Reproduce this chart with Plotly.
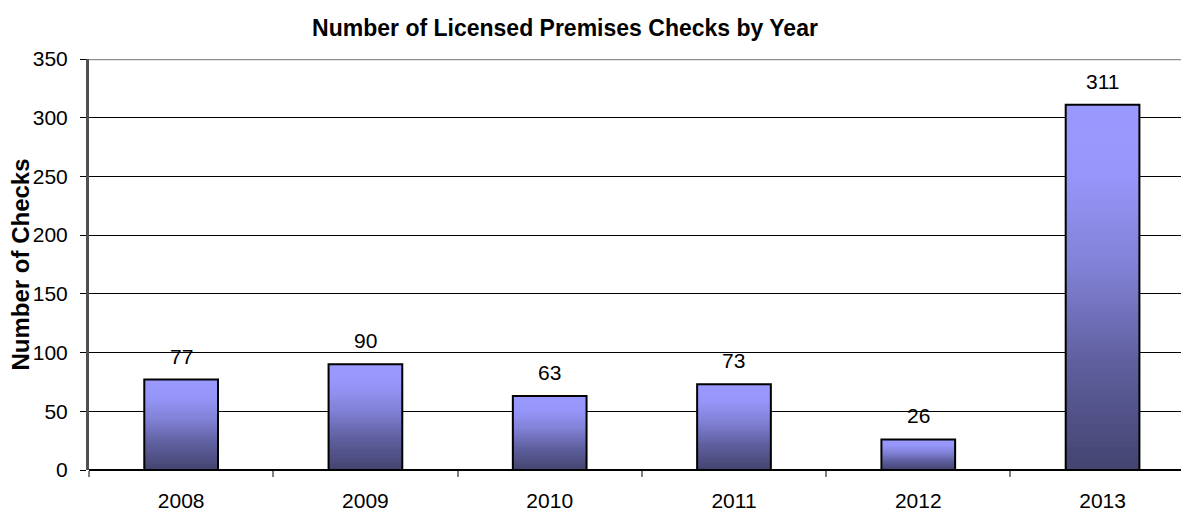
import plotly.graph_objects as go

# Annual counts of licensed premises checks
years = ["2008", "2009", "2010", "2011", "2012", "2013"]
checks = [77, 90, 63, 73, 26, 311]

# Vertical fill gradient of each bar, from its top (t=0) to its base (t=1)
grad_stops = [(0.0, (153, 153, 255)), (0.2, (150, 150, 250)), (0.45, (128, 128, 212)),
              (0.7, (96, 96, 160)), (1.0, (68, 68, 112))]
N_SEG = 80
BAR_W = 0.40


def grad_color(t):
    for (t0, c0), (t1, c1) in zip(grad_stops[:-1], grad_stops[1:]):
        if t0 <= t <= t1:
            f = (t - t0) / (t1 - t0)
            r, g, b = (round(a + (b_ - a) * f) for a, b_ in zip(c0, c1))
            return f"rgb({r},{g},{b})"
    return "rgb(68,68,112)"


fig = go.Figure()

# Shaded fill: nested bars from the full value down to a small fraction, each
# shorter one painted over the previous, so the colour darkens towards the base
for j in range(N_SEG):
    frac = 1 - j / N_SEG
    fig.add_trace(go.Bar(
        x=years,
        y=[v * frac for v in checks],
        width=BAR_W,
        marker=dict(color=grad_color(1 - frac + 0.5 / N_SEG), line=dict(width=0)),
        hoverinfo="skip",
        showlegend=False,
    ))

# Black outline over the shaded bars
fig.add_trace(go.Bar(
    x=years,
    y=checks,
    width=BAR_W,
    marker=dict(color="rgba(0,0,0,0)", line=dict(color="black", width=2)),
    showlegend=False,
))

font_family = "Liberation Sans, Arial, sans-serif"

# Value labels above bars
for i, v in enumerate(checks):
    fig.add_annotation(x=i, y=v, xref="x", yref="y", text=str(v), showarrow=False,
                       yanchor="bottom", yshift=10,
                       font=dict(family=font_family, size=21, color="black"))

# Y axis title
fig.add_annotation(xref="paper", yref="paper", x=(20 - 89) / 1092, y=0.5,
                   text="<b>Number of Checks</b>", textangle=-90, showarrow=False,
                   xanchor="center", yanchor="middle",
                   font=dict(family=font_family, size=24, color="black"))

# Grey frame line along the top of the plot area
fig.add_shape(type="line", xref="paper", yref="y", x0=0, x1=1, y0=350, y1=350,
              line=dict(color="#909090", width=2.5), layer="above")

fig.update_layout(
    width=1181, height=513,
    margin=dict(l=89, r=0, t=59, b=43),
    paper_bgcolor="white", plot_bgcolor="white",
    barmode="overlay",
    title=dict(text="<b>Number of Licensed Premises Checks by Year</b>",
               x=565 / 1181, xref="container", xanchor="center",
               y=1 - 28 / 513, yref="container", yanchor="middle",
               font=dict(family=font_family, size=23, color="black")),
    xaxis=dict(
        type="category",
        range=[-0.5, 5.5 - 13.7 / 184.3],
        showgrid=False,
        ticks="outside", tickson="boundaries", ticklen=6, tickcolor="#808080", tickwidth=2,
        ticklabelstandoff=16,
        tickfont=dict(family=font_family, size=21, color="black"),
        showline=False, zeroline=False,
    ),
    yaxis=dict(
        range=[0, 350], tickvals=[0, 50, 100, 150, 200, 250, 300, 350],
        showgrid=True, gridcolor="black", gridwidth=1,
        zeroline=True, zerolinecolor="black", zerolinewidth=2,
        showline=True, linecolor="#505050", linewidth=3,
        ticks="outside", ticklen=6, tickcolor="black", tickwidth=1,
        ticklabelstandoff=8,
        tickfont=dict(family=font_family, size=21, color="black"),
    ),
)

fig.write_html("out.html")
